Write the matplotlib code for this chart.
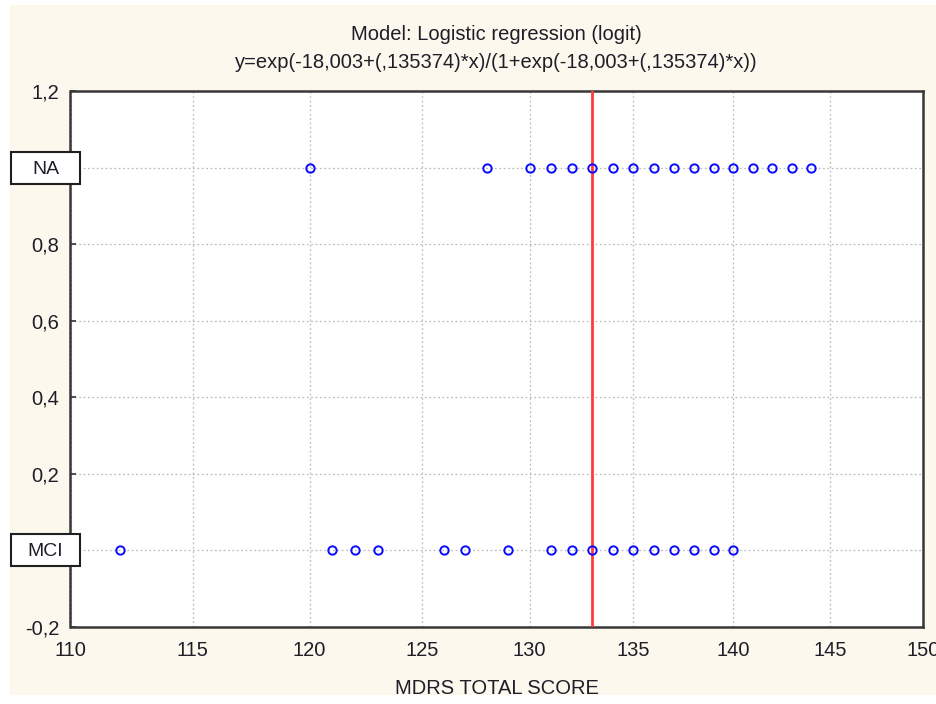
import matplotlib
matplotlib.use("Agg")
import matplotlib.pyplot as plt
import matplotlib.transforms as mtransforms
from matplotlib.patches import Rectangle
from matplotlib.ticker import FixedLocator, FixedFormatter, NullLocator

plt.rcParams['font.family'] = ['Liberation Sans', 'DejaVu Sans']

# Data
na_scores = [120, 128, 130, 131, 132, 133, 134, 135, 136, 137, 138, 139, 140, 141, 142, 143, 144]
mci_scores = [112, 121, 122, 123, 126, 127, 129, 131, 132, 133, 134, 135, 136, 137, 138, 139, 140]
na_value = 1.0
mci_value = 0.0
cutoff = 133
x_ticks = [110, 115, 120, 125, 130, 135, 140, 145, 150]
y_ticks = [-0.2, 0.0, 0.2, 0.4, 0.6, 0.8, 1.0, 1.2]
y_tick_labels = ["-0,2", "", "0,2", "0,4", "0,6", "0,8", "", "1,2"]
group_labels = ["NA", "MCI"]
title_lines = ["Model: Logistic regression (logit)",
               "y=exp(-18,003+(,135374)*x)/(1+exp(-18,003+(,135374)*x))"]
x_label = "MDRS TOTAL SCORE"

W, H = 937, 704
fig = plt.figure(figsize=(W / 100, H / 100), dpi=100)
fig.patch.set_facecolor("white")
bg = Rectangle((10 / W, 9 / H), (W - 10) / W, (H - 14) / H, transform=fig.transFigure,
               facecolor="#fdf8ed", edgecolor="none", zorder=-10)
fig.patches.append(bg)

ax = fig.add_axes([70.5 / W, 1 - 627 / H, (923 - 70.5) / W, (627 - 91) / H])
ax.set_facecolor("white")
ax.set_xscale("log")
ax.set_xlim(110, 150)
ax.set_ylim(-0.2, 1.2)

ax.xaxis.set_major_locator(FixedLocator(x_ticks))
ax.xaxis.set_major_formatter(FixedFormatter([str(t) for t in x_ticks]))
ax.xaxis.set_minor_locator(NullLocator())
ax.yaxis.set_major_locator(FixedLocator(y_ticks))
ax.yaxis.set_major_formatter(FixedFormatter(y_tick_labels))

text_color = "#1e1e28"
ax.tick_params(axis="x", direction="in", length=0, labelsize=14.5, pad=10, colors=text_color)
ax.tick_params(axis="y", direction="in", length=4, width=1.2, labelsize=14.5, pad=8, colors=text_color)
ax.tick_params(axis="y", color="#303030")

ax.grid(True, which="major", color="#bdbdbd", linestyle=(0, (1.5, 2)), linewidth=0.9)
ax.set_axisbelow(True)

for s in ax.spines.values():
    s.set_color("#383838")
    s.set_linewidth(1.8)

ax.axvline(cutoff, color="#ff3b3b", linewidth=2.0, zorder=3)

ax.plot(na_scores, [na_value] * len(na_scores), linestyle="none", marker="o",
        markersize=6, markerfacecolor="none", markeredgecolor="#0a0aff", markeredgewidth=1.4, zorder=4)
ax.plot(mci_scores, [mci_value] * len(mci_scores), linestyle="none", marker="o",
        markersize=6, markerfacecolor="none", markeredgecolor="#0a0aff", markeredgewidth=1.4, zorder=4)

# Group label boxes
trans = mtransforms.blended_transform_factory(fig.transFigure, ax.transData)
text_trans = trans + mtransforms.ScaledTranslation(0, -1.5 / 100, fig.dpi_scale_trans)
box_h = 32 / ((627 - 91) / 1.4)
for lab, yv in zip(group_labels, [na_value, mci_value]):
    r = Rectangle((11 / W, yv - box_h / 2), 69 / W, box_h, transform=trans,
                  facecolor="white", edgecolor="#202020", linewidth=1.5,
                  clip_on=False, zorder=10)
    ax.add_artist(r)
    ax.text(45.5 / W, yv, lab, transform=text_trans, ha="center", va="center",
            fontsize=14, color=text_color, zorder=11, clip_on=False)

cx = 0.5 * (70.5 + 923) / W
fig.text(cx, 1 - 35 / H, title_lines[0], ha="center", va="center",
         fontsize=14.5, color=text_color)
fig.text(cx, 1 - 63 / H, title_lines[1], ha="center", va="center",
         fontsize=14.5, color=text_color)
fig.text(cx, 1 - 688 / H, x_label, ha="center", va="center",
         fontsize=14.5, color=text_color)

fig.savefig("out.png", dpi=100, facecolor=fig.get_facecolor())
